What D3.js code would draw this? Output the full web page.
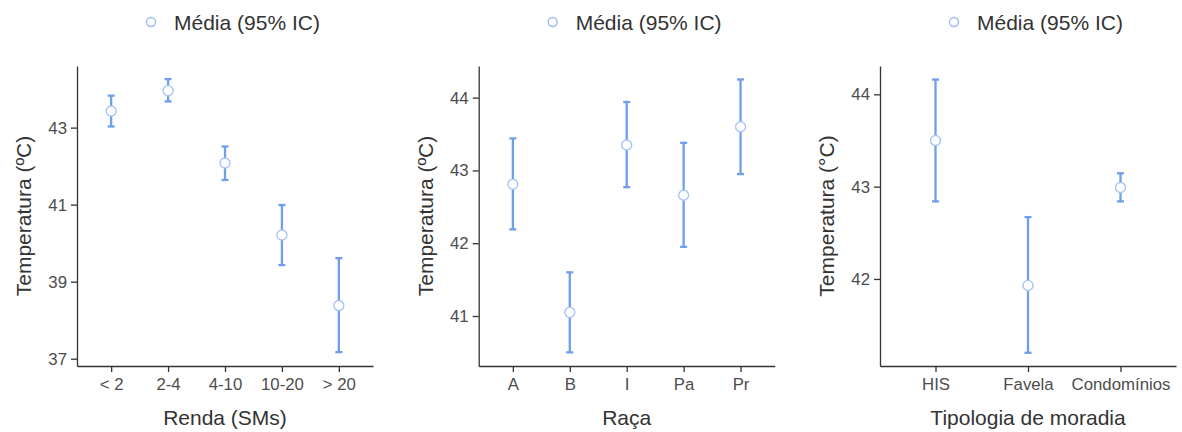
<!DOCTYPE html>
<html lang="pt">
<head>
<meta charset="utf-8">
<title>Temperatura por grupo</title>
<script src="https://cdnjs.cloudflare.com/ajax/libs/d3/7.8.5/d3.min.js"></script>
<style>
  body { margin: 0; background: #fff; }
  text { font-family: "Liberation Sans", Arial, sans-serif; }
</style>
</head>
<body>
<div id="chart"></div>
<script>
// --- data ---
const rendaCats  = ["< 2", "2-4", "4-10", "10-20", "> 20"];
const rendaMean  = [43.43, 43.96, 42.08, 40.21, 38.38];
const rendaLow   = [43.03, 43.68, 41.64, 39.43, 37.17];
const rendaHigh  = [43.83, 44.26, 42.51, 40.99, 39.61];
const rendaTicks = [37, 39, 41, 43];

const racaCats  = ["A", "B", "I", "Pa", "Pr"];
const racaMean  = [42.81, 41.05, 43.35, 42.66, 43.60];
const racaLow   = [42.19, 40.50, 42.77, 41.95, 42.95];
const racaHigh  = [43.44, 41.60, 43.94, 43.38, 44.25];
const racaTicks = [41, 42, 43, 44];

const moradiaCats  = ["HIS", "Favela", "Condomínios"];
const moradiaMean  = [43.50, 41.93, 42.99];
const moradiaLow   = [42.84, 41.20, 42.84];
const moradiaHigh  = [44.16, 42.67, 43.145];
const moradiaTicks = [42, 43, 44];

const legendLabel = "Média (95% IC)";

const width = 1182, height = 432;
const plotTop = 66, plotBottom = 366, panelW = 296;
const barColor = "#6f9eeb", ptStroke = "#a9c5f5";
const tickColor = "#4d4d4d", axisColor = "#333333";

const panels = [
  { left: 77,    cats: rendaCats,   mean: rendaMean,   low: rendaLow,   high: rendaHigh,   ticks: rendaTicks,   domain: [36.81, 44.60], xTitle: "Renda (SMs)",          yTitle: "Temperatura (ºC)" },
  { left: 478.7, cats: racaCats,    mean: racaMean,    low: racaLow,    high: racaHigh,    ticks: racaTicks,    domain: [40.313, 44.435], xTitle: "Raça",              yTitle: "Temperatura (ºC)" },
  { left: 880,   cats: moradiaCats, mean: moradiaMean, low: moradiaLow, high: moradiaHigh, ticks: moradiaTicks, domain: [41.057, 44.307], xTitle: "Tipologia de moradia", yTitle: "Temperatura (°C)" }
];

const svg = d3.select("#chart").append("svg")
  .attr("width", width)
  .attr("height", height);

panels.forEach(p => {
  const x = d3.scalePoint().domain(p.cats).range([p.left, p.left + panelW]).padding(0.6);
  const y = d3.scaleLinear().domain(p.domain).range([plotBottom, plotTop]);
  const data = p.cats.map((c, i) => ({ cat: c, mean: p.mean[i], low: p.low[i], high: p.high[i] }));

  // axes
  const gx = svg.append("g")
    .attr("transform", "translate(0," + plotBottom + ")")
    .call(d3.axisBottom(x).tickSize(6).tickPadding(6).tickSizeOuter(0));
  const gy = svg.append("g")
    .attr("transform", "translate(" + p.left + ",0)")
    .call(d3.axisLeft(y).tickValues(p.ticks).tickFormat(d3.format("d")).tickSize(6).tickPadding(4).tickSizeOuter(0));

  [gx, gy].forEach(g => {
    g.select(".domain").attr("stroke", axisColor).attr("stroke-width", 1.3);
    g.selectAll(".tick line").attr("stroke", axisColor).attr("stroke-width", 1.3);
    g.selectAll(".tick text").attr("fill", tickColor).style("font-size", "16.8px");
  });

  // axis titles
  svg.append("text")
    .attr("x", p.left + panelW / 2)
    .attr("y", 425)
    .attr("text-anchor", "middle")
    .attr("fill", "#333")
    .style("font-size", "21px")
    .text(p.xTitle);

  svg.append("text")
    .attr("transform", "translate(" + (p.left - 46) + "," + ((plotTop + plotBottom) / 2) + ") rotate(-90)")
    .attr("text-anchor", "middle")
    .attr("fill", "#333")
    .style("font-size", "21px")
    .text(p.yTitle);

  // error bars
  const bars = svg.append("g").selectAll("g").data(data).join("g");
  bars.append("line")
    .attr("x1", d => x(d.cat)).attr("x2", d => x(d.cat))
    .attr("y1", d => y(d.low)).attr("y2", d => y(d.high))
    .attr("stroke", barColor).attr("stroke-width", 2.3);
  bars.append("line")
    .attr("x1", d => x(d.cat) - 3.5).attr("x2", d => x(d.cat) + 3.5)
    .attr("y1", d => y(d.low)).attr("y2", d => y(d.low))
    .attr("stroke", barColor).attr("stroke-width", 2.3);
  bars.append("line")
    .attr("x1", d => x(d.cat) - 3.5).attr("x2", d => x(d.cat) + 3.5)
    .attr("y1", d => y(d.high)).attr("y2", d => y(d.high))
    .attr("stroke", barColor).attr("stroke-width", 2.3);

  // means
  svg.append("g").selectAll("circle").data(data).join("circle")
    .attr("cx", d => x(d.cat))
    .attr("cy", d => y(d.mean))
    .attr("r", 5)
    .attr("fill", "#fff")
    .attr("stroke", ptStroke)
    .attr("stroke-width", 1.4);

  // legend
  svg.append("circle")
    .attr("cx", p.left + 74)
    .attr("cy", 22)
    .attr("r", 4.5)
    .attr("fill", "none")
    .attr("stroke", "#9dbbf2")
    .attr("stroke-width", 1.4);
  svg.append("text")
    .attr("x", p.left + 97)
    .attr("y", 29.5)
    .attr("fill", "#333")
    .style("font-size", "21px")
    .text(legendLabel);
});
</script>
</body>
</html>
